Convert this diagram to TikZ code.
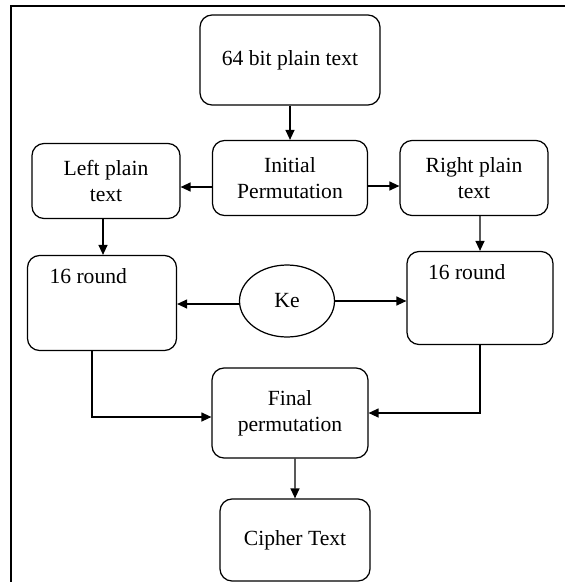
\documentclass[tikz,border=0pt]{standalone}
\usepackage{fontspec}
\setmainfont{Liberation Serif}
\usepackage{tikz}
\usetikzlibrary{positioning,arrows.meta,shapes.geometric}

\begin{document}
\begin{tikzpicture}[x=0.02cm, y=-0.02cm, line width=0.7pt, >={Triangle[length=0.2cm, width=0.18cm]},
    box/.style={draw, rounded corners=0.24cm, align=center, font=\fontsize{12.3}{15}\selectfont},
    roundlabel/.style={anchor=north west, font=\fontsize{12.3}{15}\selectfont, inner sep=0pt},
    keynode/.style={draw, ellipse, minimum width=1.9cm, minimum height=1.44cm, font=\fontsize{12.3}{15}\selectfont}]
        \useasboundingbox (0,0) rectangle (565,582);
        % Cadre
        \draw[line width=1.1pt] (11,582) -- (11,6) -- (565,6);

        % Boîtes
        \node[box, minimum width=3.6cm, minimum height=1.8cm] (plain) at (290,60) {64 bit plain text};
        \node[box, minimum width=3.1cm, minimum height=1.5cm] (initperm) at (290,178) {Initial\\Permutation};
        \node[box, minimum width=2.96cm, minimum height=1.5cm] (leftpt) at (106,181) {Left plain\\text};
        \node[box, minimum width=2.96cm, minimum height=1.5cm] (rightpt) at (474,178) {Right plain\\text};
        \node[box, minimum width=2.98cm, minimum height=1.9cm,
              label={[roundlabel, xshift=0.44cm, yshift=-0.26cm]north west:16 round}] (roundL) at (102,303) {};
        \node[box, minimum width=2.92cm, minimum height=1.86cm,
              label={[roundlabel, xshift=0.42cm, yshift=-0.26cm]north west:16 round}] (roundR) at (480,298) {};
        \node[keynode] (key) at (287,301) {Ke};
        \node[box, minimum width=3.12cm, minimum height=1.8cm] (finalperm) at (290,413) {Final\\permutation};
        \node[box, minimum width=3cm, minimum height=1.64cm] (cipher) at (295,540) {Cipher Text};

        % Flèches
        \draw[->] (plain) -- (initperm);
        \draw[->] ([yshift=-0.18cm]initperm.west) -- ([yshift=-0.18cm]initperm.west -| leftpt.east);
        \draw[->] ([yshift=-0.16cm]initperm.east) -- ([yshift=-0.16cm]initperm.east -| rightpt.west);
        \draw[->] ([xshift=-0.06cm]leftpt.south) -- ([xshift=-0.06cm]leftpt.south |- roundL.north);
        \draw[->] ([xshift=0.12cm]rightpt.south) -- (roundR.north);
        \draw[->] ([yshift=-0.06cm]key.west) -- ([yshift=-0.06cm]key.west -| roundL.east);
        \draw[->] (key.east) -- (key.east -| roundR.west);
        \draw[->] ([xshift=-0.2cm]roundL.south) |- ([yshift=-0.08cm]finalperm.west);
        \draw[->] (roundR.south) |- (finalperm.east);
        \draw[->] ([xshift=0.1cm]finalperm.south) -- (cipher.north);
    \end{tikzpicture}
\end{document}
